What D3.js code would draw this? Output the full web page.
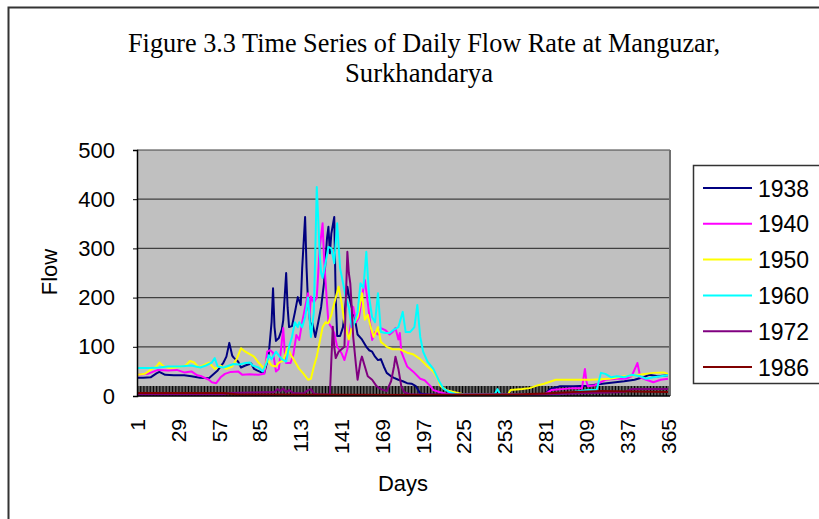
<!DOCTYPE html>
<html>
<head>
<meta charset="utf-8">
<script src="https://cdn.jsdelivr.net/npm/d3@7"></script>
<style>
  body { margin: 0; background: #fff; }
  text { font-family: "Liberation Sans", Arial, sans-serif; }
</style>
</head>
<body>
<script>
// daily flow as [day, flow] points
const years = ["1938", "1940", "1950", "1960", "1972", "1986"];
const colors = ["#000080", "#FF00FF", "#FFFF00", "#00FFFF", "#800080", "#800000"];

const flow1938 = [[1,37],[5,37],[10,38],[14,46],[16,49],[20,43],[26,42],[33,42],[38,40],[44,37],[50,36],[56,52],[60,68],[62,80],[64,108],[66,82],[67,78],[70,70],[72,58],[75,62],[79,66],[81,55],[83,52],[86,48],[88,47],[90,70],[91,83],[93,150],[94,219],[95,140],[96,112],[98,118],[100,135],[101,154],[103,250],[104,180],[105,140],[107,142],[109,170],[111,201],[113,185],[114,260],[116,364],[117,260],[118,190],[120,134],[121,148],[123,120],[125,150],[127,181],[129,230],[131,320],[132,344],[133,290],[134,330],[136,364],[137,200],[138,122],[140,122],[142,140],[145,222],[146,205],[148,180],[150,160],[152,125],[155,115],[158,100],[160,93],[162,90],[164,80],[166,73],[168,75],[170,60],[172,47],[175,40],[177,37],[180,33],[183,30],[186,26],[189,25],[192,20],[195,5],[200,3],[220,2],[280,2],[284,14],[291,20],[300,20],[310,21],[320,25],[326,27],[335,30],[342,33],[348,38],[352,43],[358,40],[365,42]];

const flow1940 = [[1,43],[8,45],[15,53],[22,52],[28,53],[33,48],[38,50],[42,42],[45,40],[50,33],[52,28],[55,26],[58,38],[61,45],[65,49],[70,50],[73,43],[78,44],[84,43],[88,45],[90,90],[92,93],[94,88],[96,50],[98,55],[100,110],[101,138],[102,90],[103,67],[106,67],[108,85],[110,124],[112,114],[114,150],[116,180],[118,209],[119,160],[120,202],[122,190],[124,200],[126,300],[128,351],[129,280],[131,190],[132,149],[134,140],[136,128],[138,100],[141,87],[143,73],[145,95],[147,140],[149,181],[151,150],[153,160],[155,200],[157,236],[159,190],[161,140],[162,114],[164,130],[166,125],[168,138],[171,134],[174,125],[176,130],[178,138],[180,115],[181,128],[182,90],[184,75],[186,60],[190,50],[195,35],[198,32],[202,20],[204,12],[208,8],[212,5],[220,3],[280,3],[285,12],[300,16],[306,16],[308,55],[309,30],[310,20],[315,22],[322,33],[330,35],[336,35],[340,40],[344,67],[346,38],[350,33],[355,28],[360,33],[365,35]];

const flow1950 = [[1,43],[6,45],[11,55],[14,60],[16,68],[19,60],[23,57],[27,58],[31,60],[34,62],[37,71],[40,68],[43,58],[46,62],[50,68],[54,55],[58,62],[62,55],[66,60],[69,75],[72,97],[75,90],[78,85],[81,80],[84,68],[88,55],[90,75],[93,62],[96,60],[98,68],[101,72],[104,98],[106,85],[109,70],[112,55],[115,45],[118,33],[120,35],[122,60],[124,80],[126,110],[128,140],[130,150],[132,148],[134,165],[137,200],[139,222],[141,190],[143,150],[146,115],[148,140],[150,150],[152,160],[155,209],[157,155],[159,165],[161,140],[163,120],[166,140],[168,110],[170,105],[172,100],[176,95],[181,95],[186,88],[190,85],[195,75],[200,60],[204,50],[207,35],[209,20],[213,12],[218,8],[225,3],[255,2],[257,12],[265,14],[270,16],[276,22],[280,25],[285,30],[288,33],[300,33],[312,33],[325,35],[335,40],[345,43],[355,47],[362,48],[365,45]];

const flow1960 = [[1,57],[10,57],[16,58],[22,60],[30,60],[38,62],[44,58],[48,62],[52,68],[54,77],[56,60],[60,58],[64,62],[67,65],[71,64],[75,67],[78,68],[80,62],[84,58],[87,50],[90,70],[91,83],[93,75],[96,90],[98,82],[100,75],[103,70],[105,100],[107,120],[109,150],[111,140],[112,150],[114,140],[116,160],[118,200],[120,120],[122,170],[124,425],[125,360],[126,290],[127,250],[128,240],[130,270],[132,303],[134,300],[136,270],[138,351],[140,260],[142,230],[144,200],[146,180],[148,140],[150,150],[152,170],[154,229],[156,220],[158,293],[160,200],[162,160],[164,150],[166,209],[168,130],[171,128],[174,128],[177,135],[180,140],[183,171],[185,130],[188,130],[191,140],[193,185],[195,120],[197,90],[200,70],[204,55],[208,30],[211,15],[215,8],[220,3],[246,3],[248,14],[250,3],[290,3],[300,8],[310,12],[316,12],[319,47],[322,45],[326,38],[330,40],[335,38],[340,43],[346,40],[350,35],[355,38],[360,40],[365,42]];

const flow1972 = [[1,3],[60,3],[64,6],[80,7],[95,8],[97,14],[99,10],[101,15],[103,8],[105,12],[108,6],[115,5],[118,12],[120,14],[122,5],[125,3],[133,3],[135,141],[136,100],[137,77],[139,90],[141,95],[143,100],[144,200],[145,293],[146,250],[147,229],[148,180],[149,120],[151,60],[152,33],[154,70],[155,80],[157,60],[159,40],[162,33],[165,20],[168,14],[172,10],[175,30],[177,60],[178,80],[180,55],[182,20],[184,8],[188,3],[280,3],[300,5],[335,8],[340,14],[365,14]];

const flow1986 = [[1,6],[60,6],[70,3],[200,2],[260,3],[280,5],[300,8],[320,10],[340,9],[365,8]];

const series = [flow1938, flow1940, flow1950, flow1960, flow1972, flow1986];

const dayTicks = [1, 29, 57, 85, 113, 141, 169, 197, 225, 253, 281, 309, 337, 365];
const flowTicks = [0, 100, 200, 300, 400, 500];

const W = 819, H = 519;
const plotLeft = 137, plotRight = 670, plotTop = 150, plotBottom = 396;

var svg = d3.select("body").append("svg")
    .attr("width", W)
    .attr("height", H);

// chart area frame (runs off the right and bottom edge)
svg.append("rect")
    .attr("x", 8.5).attr("y", 7.5)
    .attr("width", 840).attr("height", 540)
    .attr("fill", "#fff")
    .attr("stroke", "#333")
    .attr("stroke-width", 2);

// title: narrow Times look, squeezed to the reference width
svg.append("text")
    .attr("x", 424).attr("y", 52)
    .attr("text-anchor", "middle")
    .style("font-family", "'Liberation Serif', 'Times New Roman', serif")
    .style("font-size", "27px")
    .attr("textLength", 592)
    .attr("lengthAdjust", "spacingAndGlyphs")
    .text("Figure 3.3 Time Series of Daily Flow Rate at Manguzar,");

svg.append("text")
    .attr("x", 419).attr("y", 82)
    .attr("text-anchor", "middle")
    .style("font-family", "'Liberation Serif', 'Times New Roman', serif")
    .style("font-size", "27px")
    .attr("textLength", 148)
    .attr("lengthAdjust", "spacingAndGlyphs")
    .text("Surkhandarya");

var x = d3.scaleLinear().domain([1, 365]).range([137.5, 668]);
var y = d3.scaleLinear().domain([0, 500]).range([plotBottom, plotTop]);

svg.append("rect")
    .attr("x", plotLeft).attr("y", plotTop)
    .attr("width", plotRight - plotLeft).attr("height", plotBottom - plotTop)
    .attr("fill", "#C0C0C0");

// gridlines
svg.append("g")
    .selectAll("line")
    .data(flowTicks.slice(1))
    .enter().append("line")
    .attr("x1", plotLeft).attr("x2", plotRight)
    .attr("y1", function (d) { return y(d); })
    .attr("y2", function (d) { return y(d); })
    .attr("stroke", "#404040")
    .attr("stroke-width", 1.2);

// right border of plot
svg.append("line")
    .attr("x1", plotRight).attr("x2", plotRight)
    .attr("y1", plotTop).attr("y2", plotBottom)
    .attr("stroke", "#707070")
    .attr("stroke-width", 2);

// one tick per day, packed into a dark band
var allDays = d3.range(1, 366);
svg.append("g")
    .selectAll("line")
    .data(allDays)
    .enter().append("line")
    .attr("x1", function (d) { return x(d); })
    .attr("x2", function (d) { return x(d); })
    .attr("y1", plotBottom - 10).attr("y2", plotBottom)
    .attr("stroke", "#000")
    .attr("stroke-width", 1);

var line = d3.line()
    .x(function (d) { return x(d[0]); })
    .y(function (d) { return y(d[1]); });

svg.append("g")
    .selectAll("path")
    .data(series)
    .enter().append("path")
    .attr("d", line)
    .attr("fill", "none")
    .attr("stroke", function (d, i) { return colors[i]; })
    .attr("stroke-width", 2)
    .attr("stroke-linejoin", "round");

// axes
var yAxis = d3.axisLeft(y)
    .tickValues(flowTicks)
    .tickSize(4)
    .tickPadding(18);

var gy = svg.append("g")
    .attr("transform", "translate(" + plotLeft + ",0)")
    .call(yAxis);
gy.select(".domain").attr("stroke", "#000").attr("stroke-width", 1.5);
gy.selectAll("text")
    .style("font-size", "22px")
    .style("font-family", "'Liberation Sans', Arial, sans-serif")
    .attr("fill", "#000");

svg.append("line")
    .attr("x1", plotLeft).attr("x2", plotRight)
    .attr("y1", plotBottom).attr("y2", plotBottom)
    .attr("stroke", "#000")
    .attr("stroke-width", 1.5);

svg.append("g")
    .selectAll("text")
    .data(dayTicks)
    .enter().append("text")
    .attr("transform", function (d) {
        return "translate(" + (x(d) + 7.5) + ",419) rotate(-90)";
    })
    .attr("text-anchor", "end")
    .style("font-size", "21px")
    .text(function (d) { return d; });

svg.append("text")
    .attr("x", 403).attr("y", 491)
    .attr("text-anchor", "middle")
    .style("font-size", "22px")
    .text("Days");

svg.append("text")
    .attr("transform", "translate(57,272) rotate(-90)")
    .attr("text-anchor", "middle")
    .style("font-size", "22px")
    .text("Flow");

// legend
var legend = svg.append("g");
legend.append("rect")
    .attr("x", 693.5).attr("y", 165.5)
    .attr("width", 150).attr("height", 218)
    .attr("fill", "#fff")
    .attr("stroke", "#333")
    .attr("stroke-width", 1.5);

var item = legend.selectAll(".item")
    .data(years)
    .enter().append("g")
    .attr("class", "item")
    .attr("transform", function (d, i) { return "translate(0," + (188 + i * 35.8) + ")"; });

item.append("line")
    .attr("x1", 703).attr("x2", 752)
    .attr("stroke", function (d, i) { return colors[i]; })
    .attr("stroke-width", 2);

item.append("text")
    .attr("x", 758).attr("y", 8.5)
    .style("font-size", "23px")
    .text(function (d) { return d; });
</script>
</body>
</html>
